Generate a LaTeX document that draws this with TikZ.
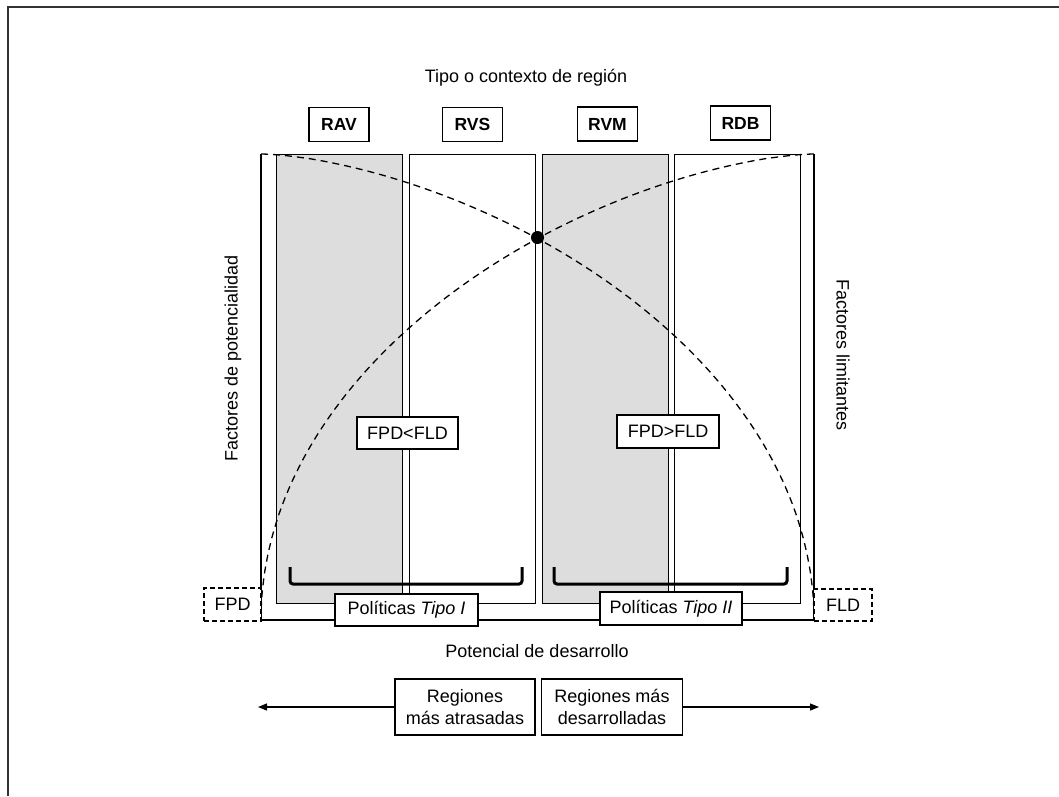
\documentclass[tikz,border=0pt]{standalone}
\usepackage{fontspec}
\setmainfont{Liberation Sans}
\usetikzlibrary{arrows.meta}
\definecolor{colgrey}{HTML}{DDDDDD}
\definecolor{framegrey}{HTML}{333333}
\begin{document}
\begin{tikzpicture}[x=1pt,y=-1pt,
  txt/.style={font=\fontsize{18}{21.5}\selectfont, inner sep=0pt},
  lbl/.style={draw, line width=1.2pt, fill=white, font=\fontsize{17.5}{20}\selectfont\bfseries, minimum width=60pt, minimum height=34pt, inner sep=0pt},
  colbox/.style={draw, line width=1.4pt, minimum width=126pt, minimum height=449pt, anchor=north west, inner sep=0pt},
  greycol/.style={colbox, fill=colgrey},
  whitecol/.style={colbox, fill=white},
  tbox/.style={draw, line width=1.2pt, fill=white, font=\fontsize{18}{21.5}\selectfont, inner sep=0pt, align=center},
  dbox/.style={tbox, dash pattern=on 5pt off 3pt},
  dcurve/.style={dash pattern=on 7pt off 5pt, line width=1.3pt},
  brk/.style={line width=3pt, rounded corners=3pt},
  arr/.style={line width=1.2pt, -{Triangle[length=9pt,width=7pt]}},
]
\useasboundingbox (0,0) rectangle (1059,796);
% frame
\draw[line width=2pt, framegrey] (8,796) -- (8,7) -- (1059,7);

% title
\node[txt] (title) at (526,78) {Tipo o contexto de región};

% region labels
\node[lbl] (lrav) at (339,124.5) {RAV};
\node[lbl] (lrvs) at (472.5,124.5) {RVS};
\node[lbl] (lrvm) at (607.5,124) {RVM};
\node[lbl] (lrdb) at (740.5,123) {RDB};

% columns
\node[greycol] (crav) at (276,154) {};
\node[whitecol] (crvs) at (409,154) {};
\node[greycol] (crvm) at (542,154) {};
\node[whitecol] (crdb) at (674,154) {};

% U frame
\coordinate (tl) at (261,154);
\coordinate (bl) at (261,620);
\coordinate (br) at (814,620);
\coordinate (tr) at (814,154);
\draw[line width=1.4pt] (tl) -- (bl) -- (br) -- (tr);

% dashed curves
\draw[dcurve] plot[domain=90:0, samples=90, variable=\t] ({261+553*pow(max(cos(\t),0.00001),1.25)}, {620-466*sin(\t)});
\draw[dcurve] plot[domain=90:0, samples=90, variable=\t] ({814-553*pow(max(cos(\t),0.00001),1.25)}, {620-466*sin(\t)});
\node[circle, fill=black, inner sep=0pt, minimum size=13pt] (cross) at (537.5,237.5) {};

% brackets
\draw[brk] (290,567) -- (290,584) -- (522,584) -- (522,567);
\draw[brk] (554,567) -- (554,584) -- (787,584) -- (787,567);

% side labels
\node[txt, rotate=90] (fpot) at (233,358) {Factores de potencialidad};
\node[txt, rotate=-90] (flim) at (843,355) {Factores limitantes};

% comparison boxes
\node[tbox, minimum width=101pt, minimum height=32pt] (lt) at (407.5,433) {FPD<FLD};
\node[tbox, minimum width=102pt, minimum height=33pt] (gt) at (668,431.5) {FPD>FLD};

% policies
\node[tbox, minimum width=143pt, minimum height=32pt] (pol1) at (406.5,610) {Políticas \textit{Tipo I}};
\node[tbox, minimum width=142pt, minimum height=33pt] (pol2) at (671,608.5) {Políticas \textit{Tipo II}};

% FPD / FLD dashed boxes
\node[dbox, minimum width=57pt, minimum height=33pt] (fpd) at (232.5,604.5) {FPD};
\node[dbox, minimum width=58pt, minimum height=32pt] (fld) at (843,605) {FLD};

% bottom
\node[txt] (pot) at (537,651) {Potencial de desarrollo};
\node[tbox, minimum width=140pt, minimum height=56pt] (reg1) at (465,707) {Regiones\\más atrasadas};
\node[tbox, minimum width=141pt, minimum height=56pt] (reg2) at (612,707) {Regiones más\\desarrolladas};
\coordinate (aL) at (258,707);
\coordinate (aR) at (819,707);
\draw[arr] (reg1.west) -- (aL);
\draw[arr] (reg2.east) -- (aR);
\end{tikzpicture}
\end{document}
